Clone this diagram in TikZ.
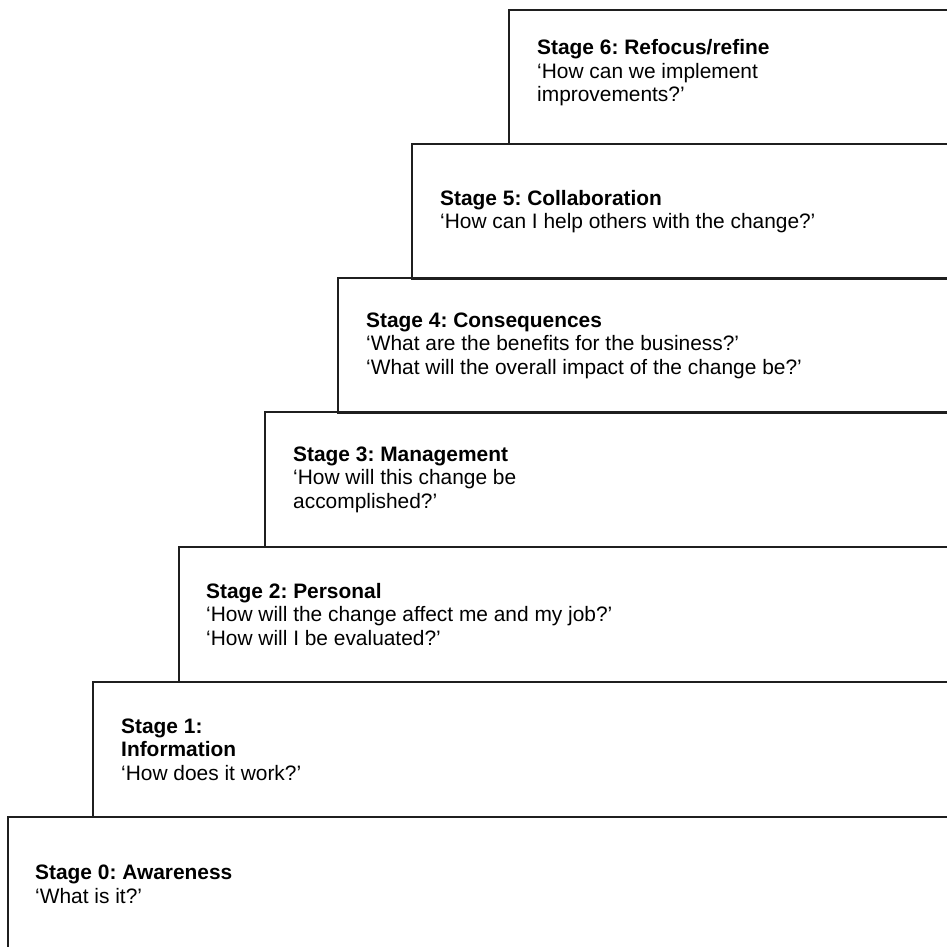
\documentclass[tikz,border=0pt]{standalone}
\usepackage{fontspec}
\setmainfont{Liberation Sans}
\frenchspacing
\begin{document}
\begin{tikzpicture}[
  x=1pt, y=-1pt,
  font=\fontsize{20.9}{23.5}\selectfont,
  stepbox/.style={draw=black!88, line width=2pt, minimum width=#1, minimum height=135pt,
    anchor=north west, inner sep=0pt, outer sep=0pt},
  steptext/.style={anchor=west, align=left, inner sep=0pt}
]
\useasboundingbox (0,0) rectangle (947,946);
\clip (0,0) rectangle (947,946);
% the steps, from the bottom up
\node[stepbox=970] (s0) at (8,817) {};
\node[stepbox=885] (s1) at (93,682) {};
\node[stepbox=800] (s2) at (179,547) {};
\node[stepbox=710] (s3) at (265,412) {};
\node[stepbox=640] (s4) at (338,278) {};
\node[stepbox=565] (s5) at (412,144) {};
\node[stepbox=470, minimum height=134pt] (s6) at (509,10) {};
% the texts
\node[steptext] (t0) at ([xshift=27pt]s0.west) {\textbf{Stage 0: Awareness}\\‘What is it?’};
\node[steptext] (t1) at ([xshift=28pt]s1.west) {\textbf{Stage 1:}\\\textbf{Information}\\‘How does it work?’};
\node[steptext] (t2) at ([xshift=27pt]s2.west) {\textbf{Stage 2: Personal}\\‘How will the change affect me and my job?’\\‘How will I be evaluated?’};
\node[steptext] (t3) at ([xshift=28pt]s3.west) {\textbf{Stage 3: Management}\\‘How will this change be\\accomplished?’};
\node[steptext] (t4) at ([xshift=28pt]s4.west) {\textbf{Stage 4: Consequences}\\‘What are the benefits for the business?’\\‘What will the overall impact of the change be?’};
\node[steptext] (t5) at ([xshift=28pt]s5.west) {\textbf{Stage 5: Collaboration}\\‘How can I help others with the change?’};
\node[steptext] (t6) at ([xshift=28pt, yshift=4pt]s6.west) {\textbf{Stage 6: Refocus/refine}\\‘How can we implement\\improvements?’};
\end{tikzpicture}
\end{document}
